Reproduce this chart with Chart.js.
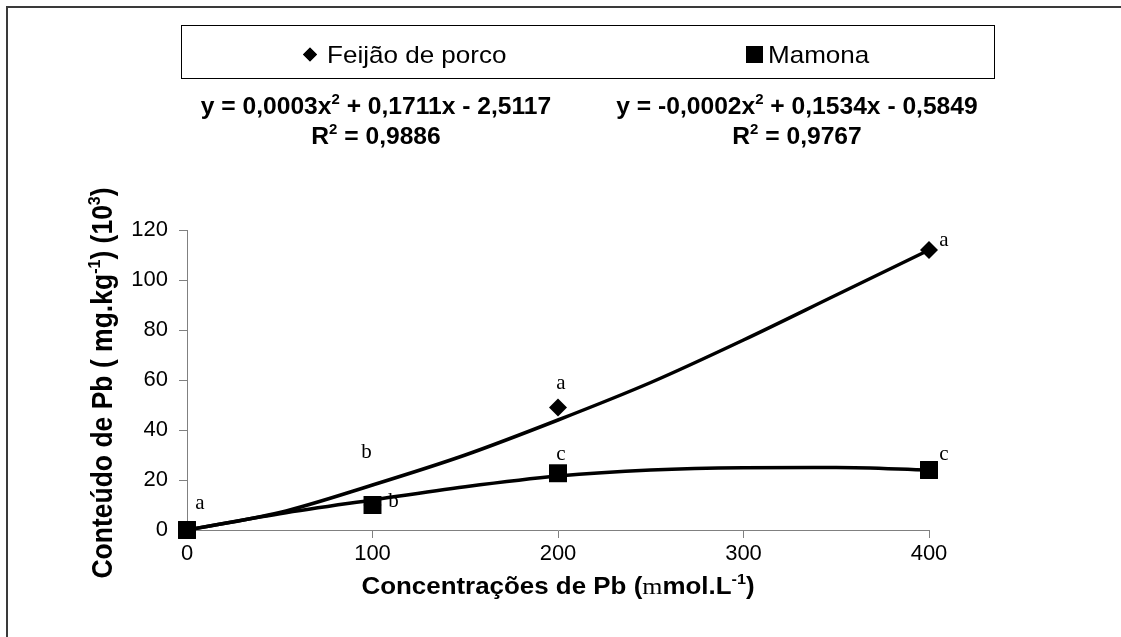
<!DOCTYPE html>
<html><head><meta charset="utf-8">
<script src="https://cdn.jsdelivr.net/npm/chart.js@4.4.1/dist/chart.umd.min.js"></script>
<style>html,body{margin:0;padding:0;background:#fff;}#wrap{width:1121px;height:637px;}</style>
</head><body><div id="wrap"><canvas id="c" width="1121" height="637"></canvas></div>
<script>
// ---- data ----
const concentrations = [0, 100, 200, 400];
const feijaoValues = [0, 10, 49, 112];
const mamonaValues = [0, 10, 22.7, 24];
const feijaoLetters = ['a', 'b', 'a', 'a'];
const mamonaLetters = ['', 'b', 'c', 'c'];
const trendX = [0, 50, 100, 150, 200, 250, 300, 350, 400];
const feijaoTrend = [0, 7, 18, 30, 44, 59, 76, 94, 112];
const mamonaTrend = [0, 6.5, 12, 17.3, 21.6, 24, 24.9, 25, 24];
const xTicks = [0, 100, 200, 300, 400];
const yTicks = [0, 20, 40, 60, 80, 100, 120];
const seriesNames = ['Feijão de porco', 'Mamona'];
const equations = ['y = 0,0003x^2 + 0,1711x - 2,5117', 'y = -0,0002x^2 + 0,1534x - 0,5849'];
const rSquared = ['R^2 = 0,9886', 'R^2 = 0,9767'];
const xTitle = 'Concentrações de Pb (~m~mol.L^{-1})';
const yTitle = 'Conteúdo de Pb ( mg.kg^{-1}) (10^3)';

// label offsets (px) relative to their points
const feijaoLetterOffsets = [[13, -27], [-6, -53], [3, -24], [15, -10]];
const mamonaLetterOffsets = [[0, 0], [21, -4], [3, -19], [15, -16]];

// --- rich text helper: ^x or ^{..} superscript, ~..~ serif segment ---
function parseRich(s) {
  const segs = []; let i = 0; let serif = false; let buf = '';
  const push = (t, sup) => { if (t) segs.push({ t, sup, serif }); };
  while (i < s.length) {
    const ch = s[i];
    if (ch === '^') {
      push(buf, false); buf = '';
      if (s[i + 1] === '{') { const j = s.indexOf('}', i); push(s.slice(i + 2, j), true); i = j + 1; }
      else { push(s[i + 1], true); i += 2; }
    } else if (ch === '~') { push(buf, false); buf = ''; serif = !serif; i++; }
    else { buf += ch; i++; }
  }
  push(buf, false);
  return segs;
}
function richFont(seg, size, bold) {
  const sz = seg.sup ? Math.round(size * 0.62) : size;
  if (seg.serif) return `${sz}px "Liberation Serif", "Times New Roman", serif`;
  return `${bold ? 'bold ' : ''}${sz}px "Liberation Sans", Arial, sans-serif`;
}
// draws text centred on cx with its baseline at by; sx = horizontal stretch
function drawRich(ctx, s, cx, by, size, bold, sx) {
  const segs = parseRich(s);
  let w = 0;
  segs.forEach(g => { ctx.font = richFont(g, size, bold); g.w = ctx.measureText(g.t).width; w += g.w; });
  ctx.save();
  ctx.translate(cx, by);
  ctx.scale(sx, 1);
  let x = -w / 2;
  ctx.textBaseline = 'alphabetic'; ctx.textAlign = 'left';
  segs.forEach(g => {
    ctx.font = richFont(g, size, bold);
    ctx.fillText(g.t, x, g.sup ? -size * 0.42 : 0);
    x += g.w;
  });
  ctx.restore();
}

const decor = {
  id: 'decor',
  afterDraw(chart) {
    const ctx = chart.ctx;
    ctx.save();
    // outer frame
    ctx.strokeStyle = '#3a3a3a'; ctx.lineWidth = 2;
    ctx.beginPath(); ctx.moveTo(7, 637); ctx.lineTo(7, 7); ctx.lineTo(1121, 7); ctx.stroke();
    // legend box
    ctx.strokeStyle = '#000'; ctx.lineWidth = 1;
    ctx.strokeRect(181.5, 25.5, 813, 53);
    ctx.fillStyle = '#000';
    const legendItems = [
      { ds: 0, mx: 310, tx: 327, r: 7 },
      { ds: 1, mx: 754.5, tx: 768, r: 12 }
    ];
    legendItems.forEach(it => {
      const ds = chart.data.datasets[it.ds];
      Chart.helpers.drawPoint(ctx, { pointStyle: ds.pointStyle, radius: it.r, borderWidth: 0 }, it.mx, 54.5);
      ctx.fill();
      ctx.save();
      ctx.translate(it.tx, 63);
      ctx.scale(1.085, 1);
      ctx.font = '24px "Liberation Sans", Arial, sans-serif';
      ctx.textBaseline = 'alphabetic'; ctx.textAlign = 'left';
      ctx.fillText(ds.label, 0, 0);
      ctx.restore();
    });
    // equations
    ctx.fillStyle = '#000';
    drawRich(ctx, equations[0], 376, 113.5, 23, true, 1.07);
    drawRich(ctx, rSquared[0], 376, 144, 23, true, 1.07);
    drawRich(ctx, equations[1], 797, 113.5, 23, true, 1.07);
    drawRich(ctx, rSquared[1], 797, 144, 23, true, 1.07);
    // axis titles
    drawRich(ctx, xTitle, 558, 594, 24, true, 1.08);
    ctx.save();
    ctx.translate(112, 383);
    ctx.scale(1.08, 1);
    ctx.rotate(-Math.PI / 2);
    drawRich(ctx, yTitle, 0, 0, 26.5, true, 1);
    ctx.restore();
    // significance letters
    const xs = chart.scales.x, ys = chart.scales.y;
    ctx.font = '21px "Liberation Serif", "Times New Roman", serif';
    ctx.textAlign = 'center'; ctx.textBaseline = 'middle';
    const drawLetters = (vals, letters, offs) => {
      vals.forEach((v, i) => {
        if (!letters[i]) return;
        const px = xs.getPixelForValue(concentrations[i]) + offs[i][0];
        const py = ys.getPixelForValue(v) + offs[i][1];
        ctx.fillText(letters[i], px, py);
      });
    };
    drawLetters(feijaoValues, feijaoLetters, feijaoLetterOffsets);
    drawLetters(mamonaValues, mamonaLetters, mamonaLetterOffsets);
    ctx.restore();
  }
};

const tickFont = { family: '"Liberation Sans", Arial, sans-serif', size: 22 };

new Chart(document.getElementById('c'), {
  type: 'scatter',
  data: {
    datasets: [
      { label: seriesNames[0], data: concentrations.map((x, i) => ({ x, y: feijaoValues[i] })),
        pointStyle: 'rectRot', pointRadius: 9, backgroundColor: '#000', borderColor: '#000', borderWidth: 0,
        showLine: false, clip: false, order: 1 },
      { label: seriesNames[1], data: concentrations.map((x, i) => ({ x, y: mamonaValues[i] })),
        pointStyle: 'rect', pointRadius: 12.7, backgroundColor: '#000', borderColor: '#000', borderWidth: 0,
        showLine: false, clip: false, order: 0 },
      { label: 'trend ' + seriesNames[0], data: trendX.map((x, i) => ({ x, y: feijaoTrend[i] })),
        showLine: true, pointRadius: 0, borderColor: '#000', borderWidth: 3.5, cubicInterpolationMode: 'monotone',
        clip: false, order: 3 },
      { label: 'trend ' + seriesNames[1], data: trendX.map((x, i) => ({ x, y: mamonaTrend[i] })),
        showLine: true, pointRadius: 0, borderColor: '#000', borderWidth: 3.5, cubicInterpolationMode: 'monotone',
        clip: false, order: 2 }
    ]
  },
  options: {
    responsive: false, animation: false, devicePixelRatio: 1,
    layout: { padding: { left: 127, top: 230, right: 192, bottom: 67 } },
    plugins: { legend: { display: false }, tooltip: { enabled: false } },
    scales: {
      x: {
        type: 'linear', min: 0, max: 400,
        afterBuildTicks: s => { s.ticks = xTicks.map(v => ({ value: v })); },
        afterFit: s => { s.height = 40; },
        grid: { drawOnChartArea: false, tickLength: 8, color: '#808080', lineWidth: 1 },
        border: { color: '#808080', width: 1 },
        ticks: { color: '#000', font: tickFont, padding: 3, maxRotation: 0 }
      },
      y: {
        type: 'linear', min: 0, max: 120,
        afterBuildTicks: s => { s.ticks = yTicks.map(v => ({ value: v })); },
        afterFit: s => { s.width = 60; },
        grid: { drawOnChartArea: false, tickLength: 8, color: '#808080', lineWidth: 1 },
        border: { color: '#808080', width: 1 },
        ticks: { color: '#000', font: tickFont, padding: 11 }
      }
    }
  },
  plugins: [decor]
});
</script></body></html>
